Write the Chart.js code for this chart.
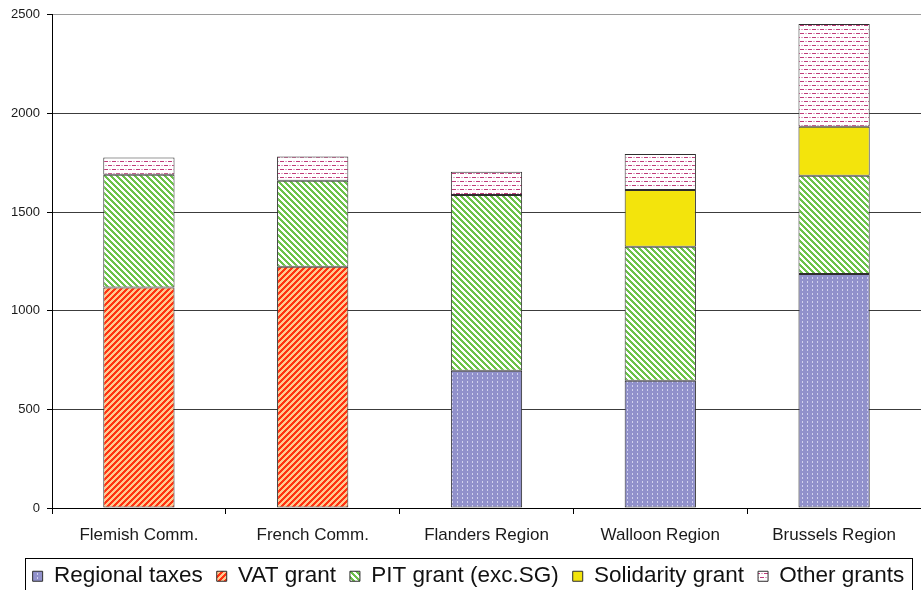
<!DOCTYPE html>
<html>
<head>
<meta charset="utf-8">
<script src="https://cdn.jsdelivr.net/npm/chart.js@4.4.1/dist/chart.umd.min.js"></script>
<style>
  html, body { margin: 0; padding: 0; background: #ffffff; }
  #wrap { width: 921px; height: 590px; }
</style>
</head>
<body>
<div id="wrap"><canvas id="chart" width="921" height="590"></canvas></div>
<script>
// Categories and stacked series (amounts per entity)
const categories = ['Flemish Comm.', 'French Comm.', 'Flanders Region', 'Walloon Region', 'Brussels Region'];
const regionalTaxes   = [null, null, 696, 645, 1186];
const vatGrant        = [1118, 1223, null, null, null];
const pitGrant        = [571, 436, 890, 679, 498];
const solidarityGrant = [null, null, null, 288, 248];
const otherGrants     = [88, 123, 118, 182, 521];
const yTicks = [0, 500, 1000, 1500, 2000, 2500];

// ---- fill patterns ----
function tile(w, h, paint) {
  const c = document.createElement('canvas');
  c.width = w; c.height = h;
  const g = c.getContext('2d');
  paint(g);
  return g.createPattern(c, 'repeat');
}
function stripes(n, w, bg, fg, rising) {
  return tile(n, n, g => {
    g.fillStyle = bg; g.fillRect(0, 0, n, n);
    g.fillStyle = fg;
    for (let x = 0; x < n; x++) for (let y = 0; y < n; y++) {
      const k = rising ? (x + y) % n : ((x - y) % n + n) % n;
      if (k < w) g.fillRect(x, y, 1, 1);
    }
  });
}
const dotted = tile(5, 4, g => {
  g.fillStyle = '#9191cb'; g.fillRect(0, 0, 5, 4);
  g.fillStyle = '#d2d2ee'; g.fillRect(2, 1, 1, 2);
});
const redHatch = stripes(6, 3, '#ffc890', '#ff3311', true);
const greenHatch = stripes(6, 3, '#ffffff', '#6cc24a', false);
const dashes = tile(8, 8, g => {
  g.fillStyle = '#ffffff'; g.fillRect(0, 0, 8, 8);
  g.fillStyle = '#c03c7a'; g.fillRect(0, 1, 4, 1); g.fillRect(4, 5, 4, 1);
  g.fillStyle = '#e2a6c6'; g.fillRect(5, 1, 2, 1); g.fillRect(1, 5, 2, 1);
});

const common = { borderColor: '#2e2e2e', borderWidth: 1, borderSkipped: false,
                 categoryPercentage: 0.41, barPercentage: 1 };

// Legend row: nudge it right, then frame it
const legendFrame = {
  id: 'legendFrame',
  afterLayout(chart) {
    const lg = chart.legend;
    if (!lg) return;
    lg.left += 8; lg.right += 8;
  },
  afterDraw(chart) {
    const lg = chart.legend;
    if (!lg || !lg.legendHitBoxes || !lg.legendHitBoxes.length) return;
    const hb = lg.legendHitBoxes;
    const first = hb[0], last = hb[hb.length - 1];
    const x0 = Math.round(first.left - 8) + 0.5;
    const x1 = Math.round(last.left + last.width + 8) + 0.5;
    const y0 = Math.round(lg.top + 8) - 0.5;
    const ctx = chart.ctx;
    ctx.save();
    ctx.strokeStyle = '#000000';
    ctx.lineWidth = 1;
    ctx.strokeRect(x0, y0, x1 - x0, 60);
    ctx.restore();
  }
};

new Chart(document.getElementById('chart'), {
  type: 'bar',
  data: {
    labels: categories,
    datasets: [
      Object.assign({ label: 'Regional taxes', data: regionalTaxes, backgroundColor: dotted }, common),
      Object.assign({ label: 'VAT grant', data: vatGrant, backgroundColor: redHatch }, common),
      Object.assign({ label: 'PIT grant (exc.SG)', data: pitGrant, backgroundColor: greenHatch }, common),
      Object.assign({ label: 'Solidarity grant', data: solidarityGrant, backgroundColor: '#f3e40c' }, common),
      Object.assign({ label: 'Other grants', data: otherGrants, backgroundColor: dashes }, common)
    ]
  },
  options: {
    responsive: false,
    devicePixelRatio: 1,
    animation: false,
    events: [],
    layout: { padding: { top: 14, left: 0, right: 0, bottom: 0 } },
    scales: {
      x: {
        stacked: true,
        offset: true,
        afterFit(s) { s.height = 43; },
        grid: { offset: true, drawOnChartArea: false, drawTicks: true, tickLength: 6, color: '#000000' },
        border: { display: true, color: '#000000', width: 1 },
        ticks: { color: '#1a1a1a', padding: 11, font: { family: '"Liberation Sans", Arial, sans-serif', size: 17 } }
      },
      y: {
        stacked: true,
        min: 0, max: 2500,
        afterFit(s) { s.width = 52; },
        afterBuildTicks(s) { s.ticks = yTicks.map(v => ({ value: v })); },
        grid: {
          color: ctx => (ctx.tick && ctx.tick.value === 2500) ? '#9a9a9a' : '#3c3c3c',
          tickColor: '#000000', tickLength: 5, lineWidth: 1
        },
        border: { display: true, color: '#000000', width: 1 },
        ticks: {
          color: '#1a1a1a', padding: 7,
          font: { family: '"Liberation Sans", Arial, sans-serif', size: 13 },
          callback: v => String(v)
        }
      }
    },
    plugins: {
      tooltip: { enabled: false },
      legend: {
        position: 'bottom',
        maxHeight: 39,
        labels: {
          boxWidth: 10, boxHeight: 10, padding: 14, color: '#111111',
          font: { family: '"Liberation Sans", Arial, sans-serif', size: 22.5 }
        }
      }
    }
  },
  plugins: [legendFrame]
});
</script>
</body>
</html>
